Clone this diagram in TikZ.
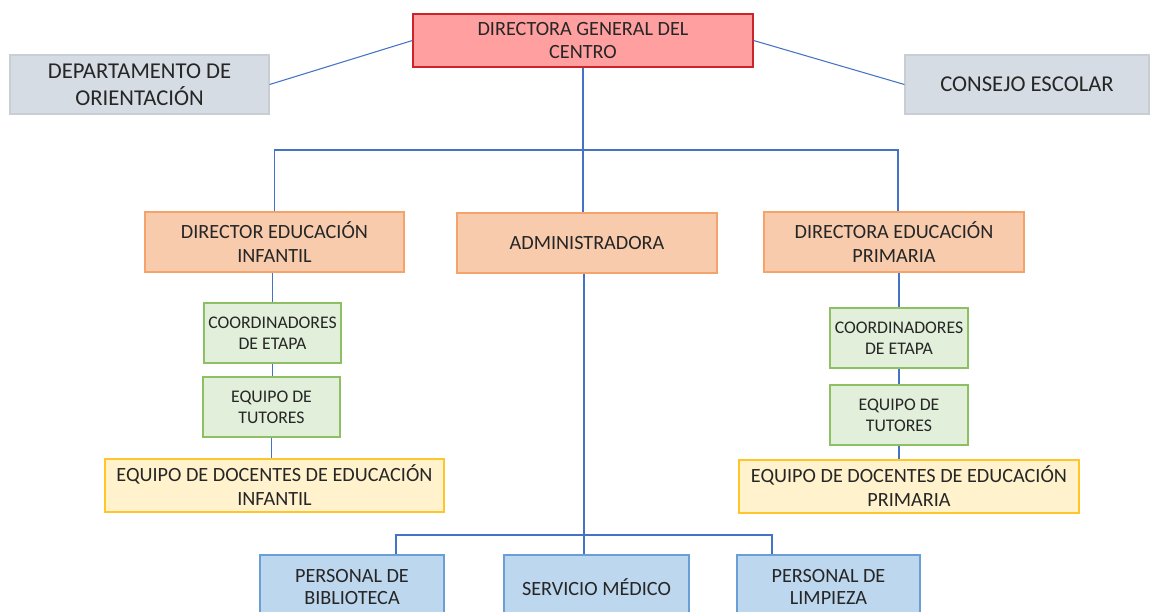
\documentclass[tikz,border=0pt]{standalone}
\usepackage{fontspec}
\setmainfont{Carlito}
\usetikzlibrary{positioning}
\definecolor{lineblue}{HTML}{4472C4}
\definecolor{redfill}{HTML}{FF9F9F}
\definecolor{redline}{HTML}{C9252B}
\definecolor{grayfill}{HTML}{D6DCE4}
\definecolor{orangefill}{HTML}{F8CBAD}
\definecolor{orangeline}{HTML}{F4A46A}
\definecolor{greenfill}{HTML}{E2EFDA}
\definecolor{greenline}{HTML}{8CC063}
\definecolor{yellowfill}{HTML}{FFF2CC}
\definecolor{yellowline}{HTML}{FFC629}
\definecolor{bluefill}{HTML}{BDD7EE}
\definecolor{blueline}{HTML}{6A9FD6}
\definecolor{txt}{HTML}{262626}
\tikzset{
  box/.style={rectangle,align=center,inner sep=0pt,text=txt,line width=0.7pt},
  headbox/.style={box,fill=redfill,draw=redline,font=\fontsize{11.5}{13.6}\selectfont},
  sidebox/.style={box,fill=grayfill,draw=grayfill!85!gray,font=\fontsize{12.9}{15.3}\selectfont},
  dirbox/.style={box,fill=orangefill,draw=orangeline,font=\fontsize{11.5}{13.6}\selectfont},
  coordbox/.style={box,fill=greenfill,draw=greenline,font=\fontsize{10.1}{12}\selectfont},
  teambox/.style={box,fill=yellowfill,draw=yellowline,font=\fontsize{11.5}{13.6}\selectfont},
  staffbox/.style={box,fill=bluefill,draw=blueline,font=\fontsize{11.5}{13}\selectfont},
  link/.style={draw=lineblue,line width=0.6pt}
}
\begin{document}
\begin{tikzpicture}[x=0.02cm,y=-0.02cm]
\clip(0,0)rectangle(1150,612);
\fill[white](0,0)rectangle(1150,612);
%top level
\node[headbox,minimum width=6.8cm,minimum height=1.06cm](top)at(583,40.5){DIRECTORA GENERAL DEL\\CENTRO};
\node[sidebox,minimum width=5.18cm,minimum height=1.18cm](orient)at(139.5,84.5){DEPARTAMENTO DE\\ORIENTACIÓN};
\node[sidebox,minimum width=4.88cm,minimum height=1.18cm](consejo)at(1027,84.5){CONSEJO ESCOLAR};
%directors
\node[dirbox,minimum width=5.18cm,minimum height=1.2cm](dirinf)at(274.5,242){DIRECTOR EDUCACIÓN\\INFANTIL};
\node[dirbox,minimum width=5.2cm,minimum height=1.2cm](admin)at(587,243){ADMINISTRADORA};
\node[dirbox,minimum width=5.2cm,minimum height=1.2cm](dirprim)at(894,242){DIRECTORA EDUCACIÓN\\PRIMARIA};
%infantil
\node[coordbox,minimum width=2.74cm,minimum height=1.2cm](coordinf)at(272.5,333){COORDINADORES\\DE ETAPA};
\node[coordbox,minimum width=2.74cm,minimum height=1.2cm](tutinf)at(271.5,407){EQUIPO DE\\TUTORES};
\node[teambox,minimum width=6.78cm,minimum height=1.06cm](docinf)at(274.5,485.5){EQUIPO DE DOCENTES DE EDUCACIÓN\\INFANTIL};
%primaria
\node[coordbox,minimum width=2.76cm,minimum height=1.2cm](coordprim)at(899,338){COORDINADORES\\DE ETAPA};
\node[coordbox,minimum width=2.76cm,minimum height=1.2cm](tutprim)at(899,415){EQUIPO DE\\TUTORES};
\node[teambox,minimum width=6.8cm,minimum height=1.06cm](docprim)at(909,486.5){EQUIPO DE DOCENTES DE EDUCACIÓN\\PRIMARIA};
%staff
\node[staffbox,minimum width=3.68cm,minimum height=1.28cm](bibl)at(352,587){PERSONAL DE\\BIBLIOTECA};
\node[staffbox,minimum width=3.7cm,minimum height=1.28cm](medico)at(596.5,587){SERVICIO MÉDICO};
\node[staffbox,minimum width=3.66cm,minimum height=1.28cm](limp)at(828.5,587){PERSONAL DE\\LIMPIEZA};
%connectors
\coordinate(bus)at(583,150);
\coordinate(busr)at(898,150);
\coordinate(admbus)at(584,535);
\coordinate(bl)at(396,535);
\coordinate(br)at(772,535);
\draw[link](top.west)--(orient.east);
\draw[link](top.east)--(consejo.west);
\draw[link](top.south)--(top.south|-admin.north);
\draw[link](dirinf.north)|-(bus)--(busr)--(busr|-dirprim.north);
\draw[link](coordinf.north)--(coordinf.north|-dirinf.south);
\draw[link](coordinf.south)--(coordinf.south|-tutinf.north);
\draw[link](tutinf.south)--(tutinf.south|-docinf.north);
\draw[link](coordprim.north)--(coordprim.north|-dirprim.south);
\draw[link](coordprim)--(tutprim);
\draw[link](tutprim.south)--(tutprim.south|-docprim.north);
\draw[link](admin.south-|admbus)--(admbus|-medico.north);
\draw[link](bl|-bibl.north)|-(br)--(br|-limp.north);
\end{tikzpicture}
\end{document}
